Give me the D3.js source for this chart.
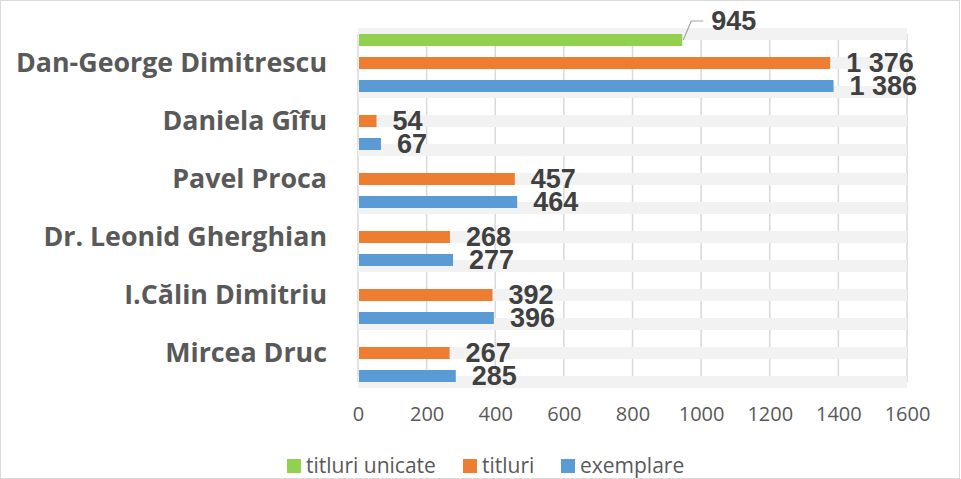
<!DOCTYPE html>
<html>
<head>
<meta charset="utf-8">
<script src="https://cdn.jsdelivr.net/npm/d3@7"></script>
<style>
  body { margin: 0; background: #fff; }
  svg { display: block; }
</style>
</head>
<body>
<svg id="chart" width="961" height="479"></svg>
<script>
const authors = ['Dan-George Dimitrescu', 'Daniela Gîfu', 'Pavel Proca', 'Dr. Leonid Gherghian', 'I.Călin Dimitriu', 'Mircea Druc']
const titluriUnicate = [945, null, null, null, null, null]
const titluri = [1376, 54, 457, 268, 392, 267]
const exemplare = [1386, 67, 464, 277, 396, 285]
const xTicks = [0, 200, 400, 600, 800, 1000, 1200, 1400, 1600]

const seriesList = [
  { name: 'titluri unicate', values: titluriUnicate, color: '#92d050', offset: -1 },
  { name: 'titluri', values: titluri, color: '#ed7d31', offset: 0 },
  { name: 'exemplare', values: exemplare, color: '#5b9bd5', offset: 1 }
]

const svg = d3.select('#chart')
const width = +svg.attr('width')
const height = +svg.attr('height')

// chart border
svg.append('rect')
  .attr('x', 0.5).attr('y', 0.5)
  .attr('width', width - 2).attr('height', height - 1)
  .attr('fill', '#fff')
  .attr('stroke', '#d9d9d9')

const x = d3.scaleLinear().domain([0, 1600]).range([358, 907])
const y = d3.scaleBand().domain(authors).range([34, 382]).padding(0)

const barH = 12
const slot = 23 // distance between bars of one category
const fmt = d3.formatLocale({ decimal: ',', thousands: ' ', grouping: [3], currency: ['', ''] }).format(',d')

// grid lines
svg.append('g')
  .selectAll('line')
  .data(xTicks)
  .join('line')
  .attr('x1', d => x(d)).attr('x2', d => x(d))
  .attr('y1', y.range()[0]).attr('y2', y.range()[1])
  .attr('stroke', '#d9d9d9')
  .attr('stroke-width', 1.5)

// gray background tracks (at every half category)
const trackPos = []
authors.forEach(a => {
  trackPos.push(y(a))
  trackPos.push(y(a) + y.bandwidth() / 2)
})
trackPos.push(y.range()[1])

svg.append('g')
  .selectAll('rect')
  .data(trackPos)
  .join('rect')
  .attr('x', x(0))
  .attr('y', d => d - barH / 2)
  .attr('width', x(1600) - x(0))
  .attr('height', barH)
  .attr('fill', '#f2f2f2')

// bars
const barData = []
seriesList.forEach(s => {
  s.values.forEach((v, i) => {
    if (v == null) return
    barData.push({ author: authors[i], value: v, color: s.color, offset: s.offset, name: s.name })
  })
})
const barCenter = d => y(d.author) + y.bandwidth() / 2 + d.offset * slot

svg.append('g')
  .selectAll('rect')
  .data(barData)
  .join('rect')
  .attr('x', x(0) + 1)
  .attr('y', d => barCenter(d) - barH / 2)
  .attr('width', d => x(d.value) - x(0) - 1)
  .attr('height', barH)
  .attr('fill', d => d.color)

// value labels
const labels = svg.append('g')
  .style('font-family', '"Liberation Sans", Arial, sans-serif')
  .style('font-weight', 'bold')
  .style('font-size', '27px')
  .attr('fill', '#404040')

barData.forEach(d => {
  const cy = barCenter(d)
  if (d.name === 'titluri unicate') {
    // label moved above the bar with a leader line
    const x0 = x(d.value)
    labels.append('path')
      .attr('d', `M${x0 + 1},${cy} L${x0 + 9},${cy - 19} L${x0 + 21},${cy - 19}`)
      .attr('fill', 'none')
      .attr('stroke', '#a6a6a6')
      .attr('stroke-width', 1.2)
    labels.append('text')
      .attr('x', x0 + 29)
      .attr('y', cy - 19)
      .attr('dy', '0.35em')
      .text(fmt(d.value))
  } else {
    labels.append('text')
      .attr('x', x(d.value) + 16)
      .attr('y', cy)
      .attr('dy', '0.35em')
      .text(fmt(d.value))
  }
})

// category labels
svg.append('g')
  .selectAll('text')
  .data(authors)
  .join('text')
  .attr('x', 327)
  .attr('y', d => y(d) + y.bandwidth() / 2)
  .attr('dy', '0.35em')
  .attr('text-anchor', 'end')
  .style('font-family', '"Open Sans", sans-serif')
  .style('font-weight', 'bold')
  .style('font-size', '26.8px')
  .attr('fill', '#595959')
  .text(d => d)

// x axis labels
const xAxis = d3.axisBottom(x).tickValues(xTicks).tickSize(0).tickPadding(0).tickFormat(d3.format('d'))
const gx = svg.append('g')
  .attr('transform', 'translate(0,414)')
  .call(xAxis)
gx.select('.domain').remove()
gx.selectAll('text')
  .attr('y', 0)
  .attr('dy', '0.35em')
  .style('font-family', '"Open Sans", sans-serif')
  .style('font-size', '20px')
  .attr('fill', '#595959')

// legend
const legendItems = [
  { name: 'titluri unicate', color: '#92d050', x: 287 },
  { name: 'titluri', color: '#ed7d31', x: 463 },
  { name: 'exemplare', color: '#5b9bd5', x: 561 }
]
const legend = svg.append('g')
  .selectAll('g')
  .data(legendItems)
  .join('g')
  .attr('transform', d => `translate(${d.x},466)`)
legend.append('rect')
  .attr('x', 0).attr('y', -7)
  .attr('width', 14).attr('height', 14)
  .attr('fill', d => d.color)
legend.append('text')
  .attr('x', 19)
  .attr('dy', '0.35em')
  .style('font-family', '"Open Sans", sans-serif')
  .style('font-size', '21px')
  .attr('fill', '#595959')
  .text(d => d.name)
</script>
</body>
</html>
